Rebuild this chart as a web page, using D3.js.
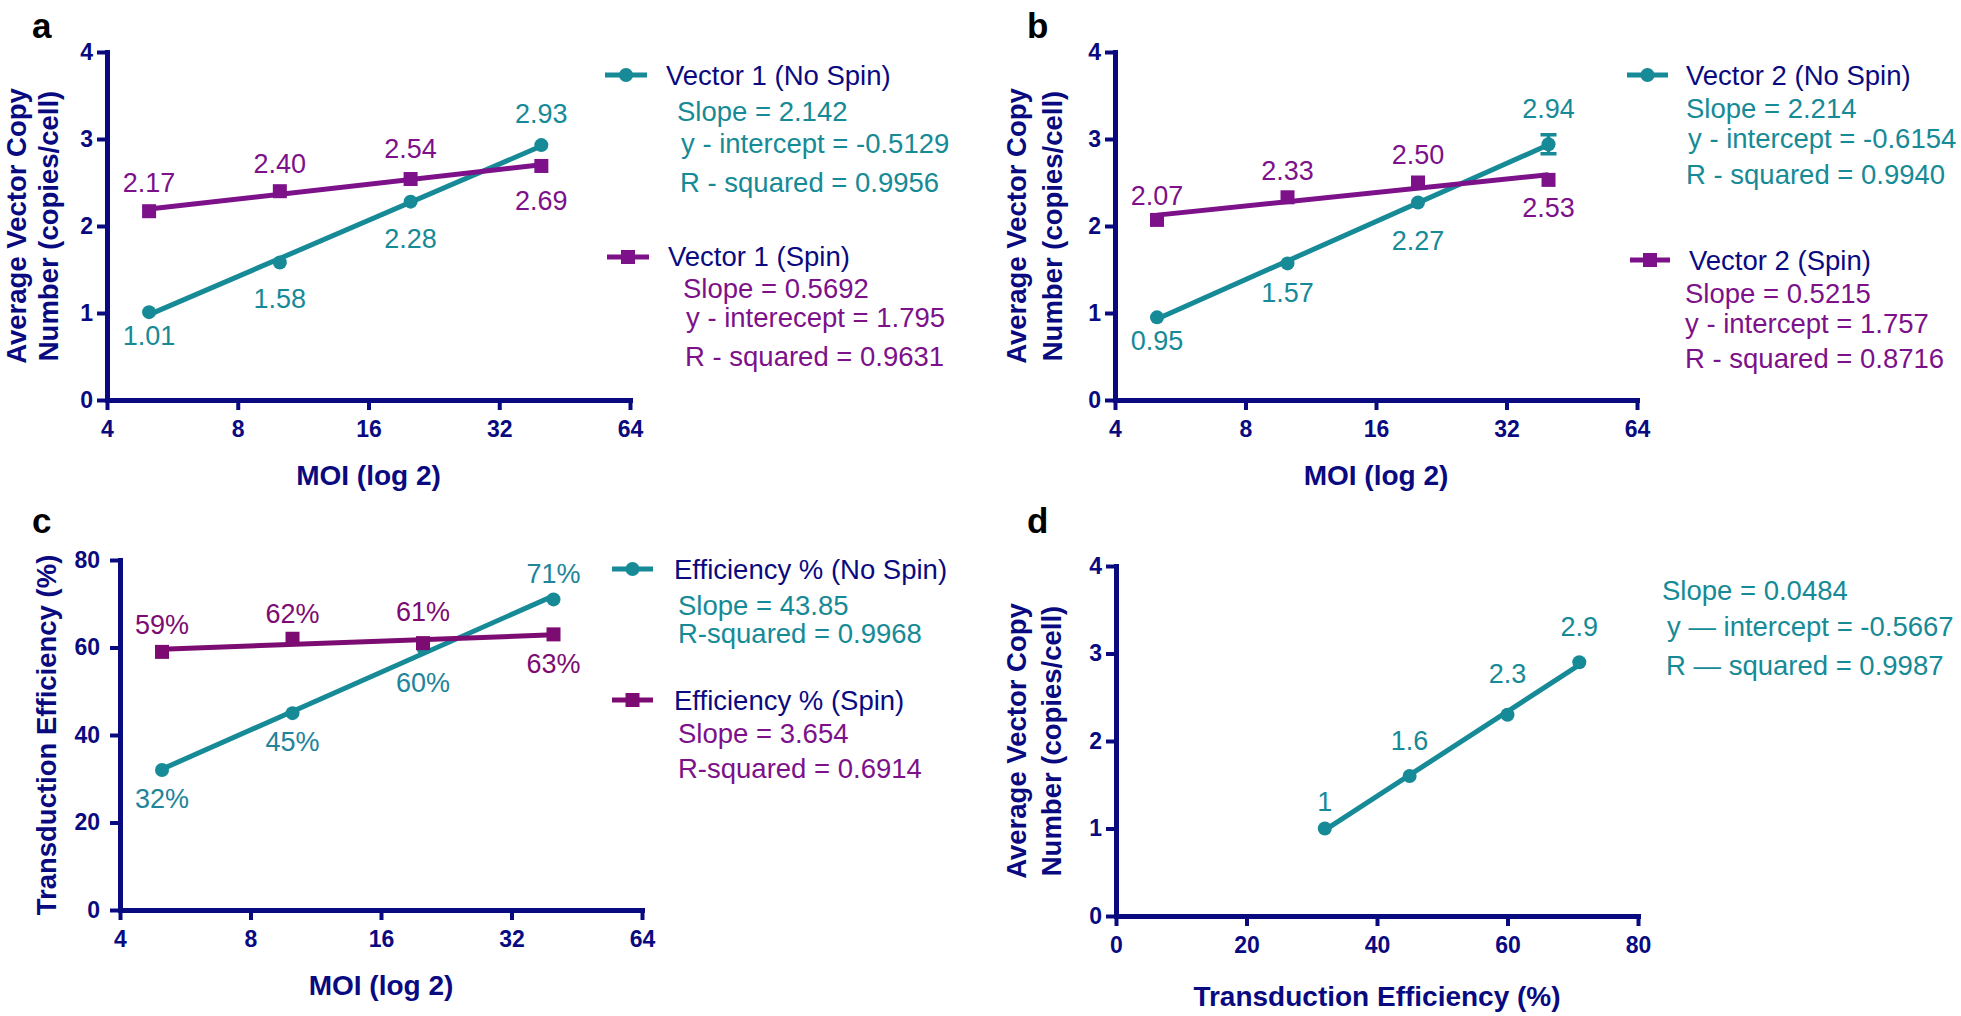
<!DOCTYPE html>
<html>
<head>
<meta charset="utf-8">
<script src="https://cdn.jsdelivr.net/npm/d3@7"></script>
<style>
  body { margin: 0; background: #fff; }
  svg { display: block; }
  text { font-family: "Liberation Sans", Arial, Helvetica, sans-serif; }
</style>
</head>
<body>
<div id="chart"></div>
<script>
// ---- data ----
var moi = [5, 10, 20, 40];
var moiTicks = [4, 8, 16, 32, 64];
var vcnTicks = [0, 1, 2, 3, 4];
var effTicks = [0, 20, 40, 60, 80];

var v1NoSpin = [1.01, 1.58, 2.28, 2.93];
var v1Spin = [2.17, 2.40, 2.54, 2.69];
var v2NoSpin = [0.95, 1.57, 2.27, 2.94];
var v2NoSpinErr = [0, 0, 0, 0.11];
var v2Spin = [2.07, 2.33, 2.50, 2.53];
var effNoSpin = [32, 45, 60, 71];
var effSpin = [59, 62, 61, 63];
var effMean = [32, 45, 60, 71];
var vcnByEff = [1, 1.6, 2.3, 2.9];

var statsV1NoSpin = ["Slope = 2.142", "y - intercept = -0.5129", "R - squared = 0.9956"];
var statsV1Spin = ["Slope = 0.5692", "y - interecept = 1.795", "R - squared = 0.9631"];
var statsV2NoSpin = ["Slope = 2.214", "y - intercept = -0.6154", "R - squared = 0.9940"];
var statsV2Spin = ["Slope = 0.5215", "y - intercept = 1.757", "R - squared = 0.8716"];
var statsEffNoSpin = ["Slope = 43.85", "R-squared = 0.9968"];
var statsEffSpin = ["Slope = 3.654", "R-squared = 0.6914"];
var statsVcnEff = ["Slope = 0.0484", "y \u2014 intercept = -0.5667", "R \u2014 squared = 0.9987"];

var vcnTitle = ["Average Vector Copy", "Number (copies/cell)"];
var effTitle = ["Transduction Efficiency (%)"];
var moiTitle = "MOI (log 2)";

// ---- colours ----
var navy = "#0a0a80";
var teal = "#168a96";
var purple = "#7c118a";
var plum = "#7c0c72";
var tealText = "#21849a";

var svg = d3.select("#chart").append("svg")
    .attr("width", 1961)
    .attr("height", 1016);

// least squares fit, returns [intercept, slope]
function linFit(xs, ys) {
  var mx = d3.mean(xs), my = d3.mean(ys);
  var sxy = d3.sum(xs, function(d, i) { return (d - mx) * (ys[i] - my); });
  var sxx = d3.sum(xs, function(d) { return (d - mx) * (d - mx); });
  var b = sxy / sxx;
  return [my - b * mx, b];
}

function drawPanel(p) {
  var g = svg.append("g");
  var x = p.x, y = p.y;
  var bottom = y.range()[0];

  g.append("text")
    .attr("x", p.letter[1]).attr("y", p.letter[2])
    .attr("font-size", 35).attr("font-weight", "bold").attr("fill", "#000")
    .text(p.letter[0]);

  var xAxis = g.append("g")
    .attr("transform", "translate(0," + bottom + ")")
    .call(d3.axisBottom(x).tickValues(p.xTicks).tickSize(10).tickSizeOuter(0)
      .tickPadding(11).tickFormat(d3.format("d")));
  var yAxis = g.append("g")
    .attr("transform", "translate(" + x.range()[0] + ",0)")
    .call(d3.axisLeft(y).tickValues(p.yTicks).tickSize(10).tickSizeOuter(0)
      .tickPadding(p.yPad).tickFormat(d3.format("d")));

  [xAxis, yAxis].forEach(function(a) {
    a.select(".domain").attr("stroke", navy).attr("stroke-width", 5)
      .attr("stroke-linecap", "square");
    a.selectAll(".tick line").attr("stroke", navy).attr("stroke-width", 4);
    a.selectAll(".tick text").attr("fill", navy)
      .style("font-size", "23px").style("font-weight", "bold")
      .style("font-family", "'Liberation Sans', Arial, sans-serif");
  });

  var cx = (x.range()[0] + x.range()[1]) / 2;
  g.append("text")
    .attr("x", cx).attr("y", bottom + p.xTitleDy)
    .attr("text-anchor", "middle").attr("font-size", 28).attr("font-weight", "bold")
    .attr("fill", navy).text(p.xTitle);

  var cy = (y.range()[0] + y.range()[1]) / 2;
  p.yTitle.forEach(function(t, i) {
    var tx = x.range()[0] + p.yTitleDx[i];
    g.append("text")
      .attr("transform", "translate(" + tx + "," + cy + ") rotate(-90)")
      .attr("text-anchor", "middle").attr("font-size", 27.5).attr("font-weight", "bold")
      .attr("fill", navy).text(t);
  });

  p.series.forEach(function(s) {
    var xf = p.xf;
    var f = linFit(s.xs.map(xf), s.values);
    var ends = [s.xs[0], s.xs[s.xs.length - 1]];
    g.append("line")
      .attr("x1", x(ends[0])).attr("y1", y(f[0] + f[1] * xf(ends[0])))
      .attr("x2", x(ends[1])).attr("y2", y(f[0] + f[1] * xf(ends[1])))
      .attr("stroke", s.color).attr("stroke-width", 5);

    if (s.err) {
      s.err.forEach(function(e, i) {
        if (!e) return;
        var px = x(s.xs[i]);
        var v = s.values[i];
        g.append("path")
          .attr("d", "M" + px + "," + y(v - e) + "V" + y(v + e) +
            "M" + (px - 8) + "," + y(v + e) + "H" + (px + 8) +
            "M" + (px - 8) + "," + y(v - e) + "H" + (px + 8))
          .attr("stroke", s.color).attr("stroke-width", 3.5).attr("fill", "none");
      });
    }

    s.values.forEach(function(v, i) {
      var px = x(s.xs[i]), py = y(v);
      if (s.marker === "circle") {
        g.append("circle").attr("cx", px).attr("cy", py).attr("r", 7).attr("fill", s.color);
      } else {
        g.append("rect").attr("x", px - 7).attr("y", py - 7)
          .attr("width", 14).attr("height", 14).attr("fill", s.color);
      }
      g.append("text")
        .attr("x", px).attr("y", py + s.labelDy[i])
        .attr("text-anchor", "middle").attr("font-size", 27)
        .attr("fill", s.labelColor).text(s.fmt(v));
    });
  });

  p.legend.forEach(function(l) {
    g.append("line")
      .attr("x1", l.x0).attr("x2", l.x1).attr("y1", l.y).attr("y2", l.y)
      .attr("stroke", l.color).attr("stroke-width", 5);
    var mx = (l.x0 + l.x1) / 2;
    if (l.marker === "circle") {
      g.append("circle").attr("cx", mx).attr("cy", l.y).attr("r", 7).attr("fill", l.color);
    } else {
      g.append("rect").attr("x", mx - 7).attr("y", l.y - 7)
        .attr("width", 14).attr("height", 14).attr("fill", l.color);
    }
    g.append("text").attr("x", l.tx).attr("y", l.ty)
      .attr("font-size", 27.5).attr("fill", navy).text(l.title);
  });

  p.stats.forEach(function(st) {
    st.lines.forEach(function(t, i) {
      g.append("text").attr("x", st.xs[i]).attr("y", st.ys[i])
        .attr("font-size", 27.5).attr("fill", st.color).text(t);
    });
  });
}

var fmt2 = d3.format(".2f");
var fmtPct = function(v) { return v + "%"; };
var fmtPlain = function(v) { return String(v); };

// panel a
drawPanel({
  letter: ["a", 32, 38],
  x: d3.scaleLog().base(2).domain([4, 64]).range([107, 630]),
  y: d3.scaleLinear().domain([0, 4]).range([400, 52]),
  xf: Math.log10,
  xTicks: moiTicks, yTicks: vcnTicks, yPad: 4,
  xTitle: moiTitle, xTitleDy: 85,
  yTitle: vcnTitle, yTitleDx: [-81, -49],
  series: [
    { xs: moi, values: v1NoSpin, color: teal, labelColor: teal, marker: "circle",
      labelDy: [33, 45, 46, -22], fmt: fmt2 },
    { xs: moi, values: v1Spin, color: purple, labelColor: purple, marker: "square",
      labelDy: [-19, -18, -21, 44], fmt: fmt2 }
  ],
  legend: [
    { x0: 605, x1: 647, y: 75, color: teal, marker: "circle", title: "Vector 1 (No Spin)", tx: 666, ty: 85 },
    { x0: 607, x1: 649, y: 257, color: purple, marker: "square", title: "Vector 1 (Spin)", tx: 668, ty: 266 }
  ],
  stats: [
    { lines: statsV1NoSpin, color: teal, xs: [677, 681, 680], ys: [121, 153, 192] },
    { lines: statsV1Spin, color: purple, xs: [683, 686, 685], ys: [298, 327, 366] }
  ]
});

// panel b
drawPanel({
  letter: ["b", 1027, 38],
  x: d3.scaleLog().base(2).domain([4, 64]).range([1115, 1637]),
  y: d3.scaleLinear().domain([0, 4]).range([400, 52]),
  xf: Math.log10,
  xTicks: moiTicks, yTicks: vcnTicks, yPad: 4,
  xTitle: moiTitle, xTitleDy: 85,
  yTitle: vcnTitle, yTitleDx: [-89, -53],
  series: [
    { xs: moi, values: v2NoSpin, err: v2NoSpinErr, color: teal, labelColor: teal, marker: "circle",
      labelDy: [33, 39, 47, -26], fmt: fmt2 },
    { xs: moi, values: v2Spin, color: purple, labelColor: purple, marker: "square",
      labelDy: [-15, -17, -19, 37], fmt: fmt2 }
  ],
  legend: [
    { x0: 1627, x1: 1668, y: 75, color: teal, marker: "circle", title: "Vector 2 (No Spin)", tx: 1686, ty: 85 },
    { x0: 1630, x1: 1670, y: 260, color: purple, marker: "square", title: "Vector 2 (Spin)", tx: 1689, ty: 270 }
  ],
  stats: [
    { lines: statsV2NoSpin, color: teal, xs: [1686, 1688, 1686], ys: [118, 148, 184] },
    { lines: statsV2Spin, color: purple, xs: [1685, 1685, 1685], ys: [303, 333, 368] }
  ]
});

// panel c
drawPanel({
  letter: ["c", 32, 533],
  x: d3.scaleLog().base(2).domain([4, 64]).range([120, 642]),
  y: d3.scaleLinear().domain([0, 80]).range([910, 560]),
  xf: Math.log10,
  xTicks: moiTicks, yTicks: effTicks, yPad: 10,
  xTitle: moiTitle, xTitleDy: 85,
  yTitle: effTitle, yTitleDx: [-64],
  series: [
    { xs: moi, values: effNoSpin, color: teal, labelColor: tealText, marker: "circle",
      labelDy: [38, 38, 44, -16], fmt: fmtPct },
    { xs: moi, values: effSpin, color: plum, labelColor: plum, marker: "square",
      labelDy: [-18, -16, -22, 39], fmt: fmtPct }
  ],
  legend: [
    { x0: 612, x1: 653, y: 569, color: teal, marker: "circle", title: "Efficiency % (No Spin)", tx: 674, ty: 579 },
    { x0: 612, x1: 653, y: 700, color: plum, marker: "square", title: "Efficiency % (Spin)", tx: 674, ty: 710 }
  ],
  stats: [
    { lines: statsEffNoSpin, color: teal, xs: [678, 678], ys: [615, 643] },
    { lines: statsEffSpin, color: purple, xs: [678, 678], ys: [743, 778] }
  ]
});

// panel d
drawPanel({
  letter: ["d", 1027, 533],
  x: d3.scaleLinear().domain([0, 80]).range([1116, 1638]),
  y: d3.scaleLinear().domain([0, 4]).range([916, 566]),
  xf: function(v) { return v; },
  xTicks: effTicks, yTicks: vcnTicks, yPad: 4,
  xTitle: effTitle[0], xTitleDy: 90,
  yTitle: vcnTitle, yTitleDx: [-90, -55],
  series: [
    { xs: effMean, values: vcnByEff, color: teal, labelColor: teal, marker: "circle",
      labelDy: [-18, -26, -32, -26], fmt: fmtPlain }
  ],
  legend: [],
  stats: [
    { lines: statsVcnEff, color: teal, xs: [1662, 1667, 1666], ys: [600, 636, 675] }
  ]
});
</script>
</body>
</html>
